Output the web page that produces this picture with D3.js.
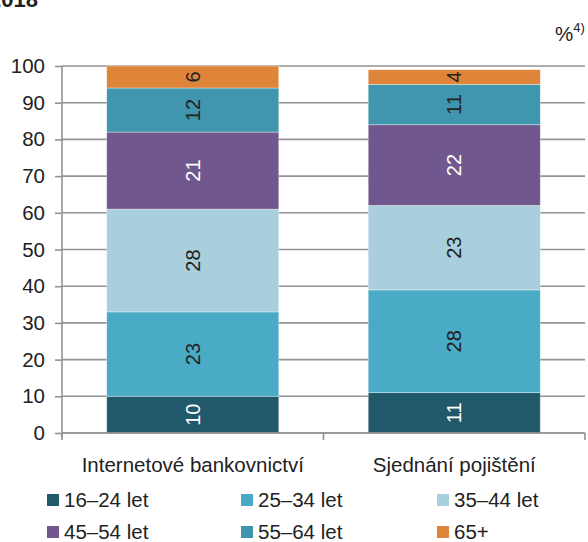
<!DOCTYPE html>
<html>
<head>
<meta charset="utf-8">
<script src="https://cdn.jsdelivr.net/npm/d3@7"></script>
<style>
  html, body { margin: 0; padding: 0; background: #fff; }
  svg { display: block; font-family: "Liberation Sans", Arial, sans-serif; }
</style>
</head>
<body>
<svg id="chart" width="588" height="542"></svg>
<script>
// Share of users by age group for two online activities (%)
const categories = ["Internetové bankovnictví", "Sjednání pojištění"];
const ageGroups = ["16–24 let", "25–34 let", "35–44 let", "45–54 let", "55–64 let", "65+"];
const banking = [10, 23, 28, 21, 12, 6];
const insurance = [11, 28, 23, 22, 11, 4];
const yTicks = [0, 10, 20, 30, 40, 50, 60, 70, 80, 90, 100];

const colors = ["#22596a", "#49abc6", "#a9cfdd", "#70578d", "#3f96ae", "#df853a"];
const labelColors = ["#fff", "#222", "#222", "#fff", "#222", "#222"];

const svg = d3.select("#chart");
const plotLeft = 62, plotRight = 585, plotTop = 66, plotBottom = 433;
const fs = 20.5;

const y = d3.scaleLinear().domain([0, 100]).range([plotBottom, plotTop]);
const x = d3.scaleBand().domain(categories).range([plotLeft, plotRight])
  .paddingInner(0.342).paddingOuter(0.171);

// Title fragment at the top edge
svg.append("text").attr("x", 38).attr("y", 7).attr("text-anchor", "end")
  .attr("font-size", 22).attr("font-weight", "bold").attr("fill", "#222")
  .text("2018");

// Unit note
const unit = svg.append("text").attr("x", 555).attr("y", 41)
  .attr("font-size", fs).attr("fill", "#222");
unit.append("tspan").text("%");
unit.append("tspan").attr("font-size", 13).attr("dy", -9).text("4)");

// Horizontal gridlines
svg.append("g").selectAll("line").data(yTicks).join("line")
  .attr("x1", plotLeft).attr("x2", plotRight)
  .attr("y1", d => y(d)).attr("y2", d => y(d))
  .attr("stroke", "#939393").attr("stroke-width", 1.6);

// Y axis
const yAxis = svg.append("g").attr("transform", `translate(${plotLeft},0)`)
  .call(d3.axisLeft(y).tickValues(yTicks).tickSize(7).tickSizeOuter(0).tickPadding(10));
yAxis.select(".domain").remove();
yAxis.selectAll(".tick line").attr("stroke", "#939393").attr("stroke-width", 1.6);
yAxis.selectAll("text").attr("font-size", fs).attr("fill", "#222")
  .attr("font-family", "Liberation Sans, Arial, sans-serif");
svg.append("line").attr("x1", plotLeft).attr("x2", plotLeft)
  .attr("y1", plotTop).attr("y2", plotBottom + 4)
  .attr("stroke", "#939393").attr("stroke-width", 1.6);

// Stacked bars
const series = [banking, insurance];
const segs = [];
categories.forEach((c, ci) => {
  let acc = 0;
  series[ci].forEach((v, gi) => {
    segs.push({ cat: c, gi, v, y0: acc, y1: acc + v });
    acc += v;
  });
});

const barG = svg.append("g");
barG.selectAll("rect").data(segs).join("rect")
  .attr("x", d => x(d.cat))
  .attr("width", x.bandwidth())
  .attr("y", d => y(d.y1))
  .attr("height", d => y(d.y0) - y(d.y1))
  .attr("fill", d => colors[d.gi])
  .attr("stroke", "rgba(255,255,255,0.45)")
  .attr("stroke-width", 0.8);

barG.selectAll("text").data(segs).join("text")
  .attr("transform", d => `translate(${x(d.cat) + x.bandwidth() / 2},${y((d.y0 + d.y1) / 2)}) rotate(-90)`)
  .attr("text-anchor", "middle").attr("dy", "0.36em")
  .attr("font-size", 20)
  .attr("fill", d => labelColors[d.gi])
  .text(d => d.v);

// X axis baseline with boundary ticks
svg.append("line").attr("x1", plotLeft).attr("x2", plotRight)
  .attr("y1", plotBottom).attr("y2", plotBottom)
  .attr("stroke", "#939393").attr("stroke-width", 1.6);
const step = x.step();
const bounds = categories.map(c => x(c) - step * x.paddingInner() / 2).concat([plotRight]);
svg.append("g").selectAll("line").data(bounds).join("line")
  .attr("x1", d => d).attr("x2", d => d)
  .attr("y1", plotBottom).attr("y2", plotBottom + 7)
  .attr("stroke", "#939393").attr("stroke-width", 1.6);

svg.append("g").selectAll("text").data(categories).join("text")
  .attr("x", d => x(d) + x.bandwidth() / 2).attr("y", 472)
  .attr("text-anchor", "middle").attr("font-size", fs).attr("fill", "#222")
  .text(d => d);

// Legend
const legX = [47, 241, 437];
const legY = [500, 532];
const leg = svg.append("g").selectAll("g").data(ageGroups).join("g")
  .attr("transform", (d, i) => `translate(${legX[i % 3]},${legY[Math.floor(i / 3)]})`);
leg.append("rect").attr("x", 0).attr("y", -6).attr("width", 12).attr("height", 12)
  .attr("fill", (d, i) => colors[i]);
leg.append("text").attr("x", 17).attr("dy", "0.36em")
  .attr("font-size", fs).attr("fill", "#222").text(d => d);
</script>
</body>
</html>
